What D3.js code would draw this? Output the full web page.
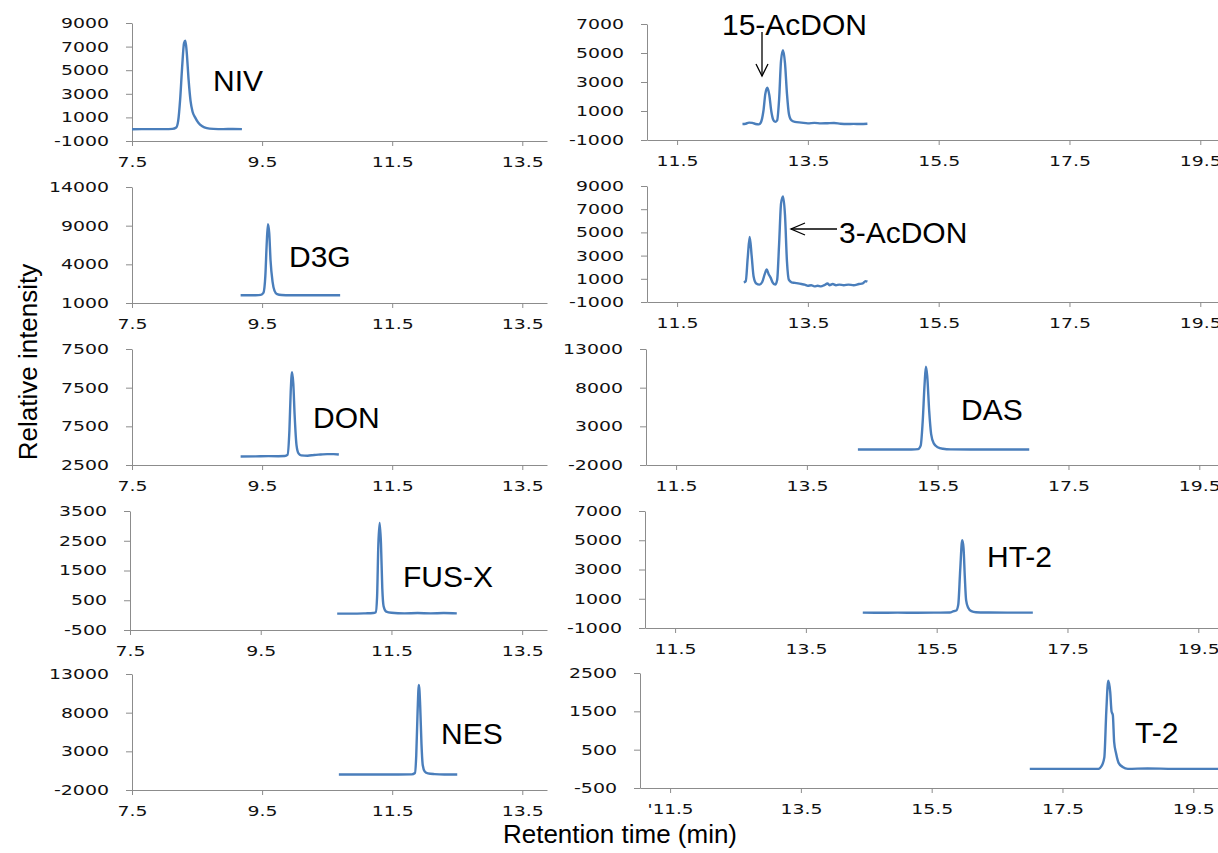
<!DOCTYPE html>
<html lang="en">
<head>
<meta charset="UTF-8" />
<title>Mycotoxin chromatograms</title>
<script src="https://d3js.org/d3.v7.min.js"></script>
<style>
  body { margin: 0; background: #fff; }
  svg { display: block; }
</style>
</head>
<body>
<svg width="1218" height="853"></svg>
<script>
// retention time ticks
const leftTimeTicks = [7.5, 9.5, 11.5, 13.5];
const rightTimeTicks = [11.5, 13.5, 15.5, 17.5, 19.5];
const rightTimeTickLabelsLast = ["'11.5", "13.5", "15.5", "17.5", "19.5"];

// intensity ticks (labels as printed on the figure)
const nivTicks = [-1000, 1000, 3000, 5000, 7000, 9000];
const d3gTicks = [-1000, 4000, 9000, 14000];
const d3gTickLabels = ["1000", "4000", "9000", "14000"];
const donTicks = [2500, 7500, 12500, 17500];
const donTickLabels = ["2500", "7500", "7500", "7500"];
const fusxTicks = [-500, 500, 1500, 2500, 3500];
const nesTicks = [-2000, 3000, 8000, 13000];
const acdon15Ticks = [-1000, 1000, 3000, 5000, 7000];
const acdon3Ticks = [-1000, 1000, 3000, 5000, 7000, 9000];
const dasTicks = [-2000, 3000, 8000, 13000];
const ht2Ticks = [-1000, 1000, 3000, 5000, 7000];
const t2Ticks = [-500, 500, 1500, 2500];

// traces: [retention time (min), intensity]
const nivTrace = [[7.50,0],[7.80,5],[8.00,10],[8.12,30],[8.18,150],[8.21,700],[8.24,2500],[8.27,5200],[8.30,7300],[8.32,7500],[8.34,6600],[8.37,4200],[8.40,2400],[8.43,1500],[8.47,1000],[8.52,550],[8.58,250],[8.65,90],[8.75,30],[8.90,10],[9.05,20],[9.19,10]];
const d3gTrace = [[9.17,0],[9.30,0],[9.40,10],[9.48,50],[9.52,300],[9.55,2500],[9.57,6500],[9.59,9200],[9.61,8000],[9.63,4500],[9.66,1800],[9.69,600],[9.73,150],[9.80,40],[9.95,10],[10.20,0],[10.50,0],[10.70,10]];
const donTrace = [[9.17,3600],[9.40,3620],[9.60,3650],[9.75,3640],[9.85,3660],[9.89,3800],[9.92,7000],[9.94,12000],[9.96,14500],[9.98,13000],[10.00,9000],[10.03,5000],[10.06,4000],[10.10,3750],[10.20,3700],[10.30,3800],[10.40,3850],[10.50,3900],[10.60,3900],[10.68,3850]];
const fusxTrace = [[10.67,50],[10.90,50],[11.10,60],[11.22,70],[11.26,100],[11.28,600],[11.30,2400],[11.32,3100],[11.34,2400],[11.36,900],[11.38,300],[11.42,120],[11.50,80],[11.70,60],[11.90,70],[12.10,60],[12.30,70],[12.50,60]];
const nesTrace = [[10.68,0],[11.00,0],[11.30,0],[11.60,0],[11.80,20],[11.85,200],[11.87,2500],[11.89,8000],[11.91,11600],[11.93,9000],[11.95,4000],[11.97,1200],[12.00,400],[12.05,150],[12.15,50],[12.30,0],[12.50,0]];
const acdon15Trace = [[12.50,100],[12.55,120],[12.60,200],[12.65,180],[12.70,100],[12.75,80],[12.78,200],[12.82,1000],[12.85,2200],[12.88,2600],[12.91,2100],[12.94,1000],[12.97,400],[13.00,250],[13.03,350],[13.06,1800],[13.09,4500],[13.12,5200],[13.15,4300],[13.18,2200],[13.21,800],[13.25,350],[13.30,250],[13.40,200],[13.50,150],[13.60,180],[13.70,150],[13.80,160],[13.90,170],[14.00,120],[14.10,100],[14.20,110],[14.30,100],[14.41,120]];
const acdon3Trace = [[12.52,700],[12.55,800],[12.58,2800],[12.61,4600],[12.64,3000],[12.67,1200],[12.71,600],[12.76,500],[12.80,700],[12.84,1400],[12.87,1800],[12.90,1400],[12.93,1100],[12.96,700],[13.00,500],[13.03,900],[13.06,4000],[13.09,7500],[13.12,8100],[13.15,6500],[13.18,2500],[13.21,900],[13.25,700],[13.30,650],[13.35,600],[13.40,550],[13.45,500],[13.50,400],[13.55,450],[13.60,350],[13.65,400],[13.70,350],[13.75,450],[13.80,600],[13.83,450],[13.88,550],[13.93,450],[13.98,500],[14.05,450],[14.12,500],[14.20,450],[14.28,550],[14.34,600],[14.38,800],[14.41,750]];
const dasTrace = [[14.28,0],[14.60,0],[14.90,0],[15.10,10],[15.20,50],[15.24,500],[15.27,3500],[15.30,8500],[15.32,10700],[15.34,9500],[15.37,5000],[15.40,2000],[15.44,800],[15.50,300],[15.58,100],[15.70,20],[16.00,0],[16.40,0],[16.90,0]];
const ht2Trace = [[14.37,50],[14.60,40],[14.90,50],[15.20,40],[15.50,50],[15.70,60],[15.76,150],[15.80,200],[15.83,600],[15.86,3000],[15.89,5000],[15.91,4500],[15.93,2500],[15.95,900],[15.98,400],[16.03,150],[16.10,80],[16.30,60],[16.60,50],[16.97,50]];
const t2Trace = [[17.00,0],[17.40,0],[17.80,0],[18.05,0],[18.10,80],[18.14,300],[18.17,1500],[18.20,2300],[18.23,2000],[18.25,1500],[18.27,1400],[18.29,700],[18.32,400],[18.36,150],[18.42,50],[18.50,0],[18.80,10],[19.20,0],[19.60,0],[20.00,0]];

// layout: axis origin x, plot top / bottom, label position
const panels = [
  { name: "NIV",      trace: nivTrace,     ticks: nivTicks,     side: "L", axisX: 132, top: 23,  bottom: 141, lx: 213, ly: 91 },
  { name: "D3G",      trace: d3gTrace,     ticks: d3gTicks,     tickLabels: d3gTickLabels, side: "L", axisX: 132, top: 187, bottom: 303, lx: 289, ly: 267 },
  { name: "DON",      trace: donTrace,     ticks: donTicks,     tickLabels: donTickLabels, side: "L", axisX: 132, top: 349, bottom: 465, lx: 313, ly: 428 },
  { name: "FUS-X",    trace: fusxTrace,    ticks: fusxTicks,    side: "L", axisX: 130, top: 511, bottom: 630, lx: 403, ly: 587 },
  { name: "NES",      trace: nesTrace,     ticks: nesTicks,     side: "L", axisX: 132, top: 674, bottom: 790, lx: 441, ly: 744 },
  { name: "15-AcDON", trace: acdon15Trace, ticks: acdon15Ticks, side: "R", axisX: 647, top: 24,  bottom: 140, lx: 722, ly: 35 },
  { name: "3-AcDON",  trace: acdon3Trace,  ticks: acdon3Ticks,  side: "R", axisX: 647, top: 186, bottom: 302, lx: 839, ly: 243 },
  { name: "DAS",      trace: dasTrace,     ticks: dasTicks,     side: "R", axisX: 646, top: 349, bottom: 465, lx: 961, ly: 420 },
  { name: "HT-2",     trace: ht2Trace,     ticks: ht2Ticks,     side: "R", axisX: 645, top: 511, bottom: 628, lx: 987, ly: 567 },
  { name: "T-2",      trace: t2Trace,      ticks: t2Ticks,      side: "R", axisX: 640, top: 673, bottom: 788, lx: 1135, ly: 743, xLabels: rightTimeTickLabelsLast }
];

const svg = d3.select('svg');
const axisColor = '#8c8c8c';
const lineColor = '#4a7ebb';

// tick font is wide (stretched Verdana look) -> stretch glyphs to fixed widths
function labelWidth(s) {
  let w = 0;
  for (const c of s) w += /[0-9]/.test(c) ? 12 : c === '-' ? 7 : c === '.' ? 6 : 4;
  return w;
}
function styleTicks(g) {
  g.select('.domain').attr('stroke', axisColor);
  g.selectAll('.tick line').attr('stroke', axisColor);
  g.selectAll('.tick text')
    .attr('fill', '#111')
    .style('font-family', '"DejaVu Sans", Verdana, sans-serif')
    .style('font-size', '14px')
    .attr('textLength', function () { return labelWidth(this.textContent); })
    .attr('lengthAdjust', 'spacingAndGlyphs');
}

panels.forEach(p => {
  const x = p.side === 'L'
    ? d3.scaleLinear().domain([7.5, 13.88]).range([p.axisX, 547])
    : d3.scaleLinear().domain([11.04, 20.0]).range([p.axisX, p.axisX + 8.96 * 65.4]);
  const y = d3.scaleLinear().domain([p.ticks[0], p.ticks[p.ticks.length - 1]]).range([p.bottom, p.top]);

  const g = svg.append('g');

  const yAxis = d3.axisLeft(y).tickValues(p.ticks).tickSize(6).tickPadding(17).tickSizeOuter(0)
    .tickFormat((d, i) => p.tickLabels ? p.tickLabels[i] : String(d));
  g.append('g').attr('transform', `translate(${p.axisX},0)`).call(yAxis).call(styleTicks);

  const xTicks = p.side === 'L' ? leftTimeTicks : rightTimeTicks;
  const xAxis = d3.axisBottom(x).tickValues(xTicks).tickSize(5).tickPadding(11).tickSizeOuter(0)
    .tickFormat((d, i) => p.xLabels ? p.xLabels[i] : d.toFixed(1));
  g.append('g').attr('transform', `translate(0,${p.bottom})`).call(xAxis).call(styleTicks);

  const line = d3.line().x(d => x(d[0])).y(d => y(d[1])).curve(d3.curveMonotoneX);
  g.append('path')
    .datum(p.trace)
    .attr('d', line)
    .attr('fill', 'none')
    .attr('stroke', lineColor)
    .attr('stroke-width', 2.4)
    .attr('stroke-linejoin', 'round');

  g.append('text')
    .attr('x', p.lx)
    .attr('y', p.ly)
    .style('font-family', '"Liberation Sans", Arial, sans-serif')
    .style('font-size', '30px')
    .attr('fill', '#000')
    .text(p.name);
});

// arrows pointing at the acetylated DON peaks
const arrows = [
  { line: [[762, 32], [762, 76]], head: [[756, 64], [762, 76], [768, 64]] },
  { line: [[837, 229], [791, 229]], head: [[805, 223], [791, 229], [805, 235]] }
];
arrows.forEach(a => {
  svg.append('path').attr('d', d3.line()(a.line)).attr('stroke', '#000').attr('stroke-width', 1.3).attr('fill', 'none');
  svg.append('path').attr('d', d3.line()(a.head)).attr('stroke', '#000').attr('stroke-width', 1.3).attr('fill', 'none');
});

// axis titles
svg.append('text')
  .attr('transform', 'translate(37,362) rotate(-90)')
  .attr('text-anchor', 'middle')
  .style('font-family', '"Liberation Sans", Arial, sans-serif')
  .style('font-size', '26px')
  .text('Relative intensity');

svg.append('text')
  .attr('x', 620)
  .attr('y', 843)
  .attr('text-anchor', 'middle')
  .style('font-family', '"Liberation Sans", Arial, sans-serif')
  .style('font-size', '26px')
  .text('Retention time (min)');
</script>
</body>
</html>
